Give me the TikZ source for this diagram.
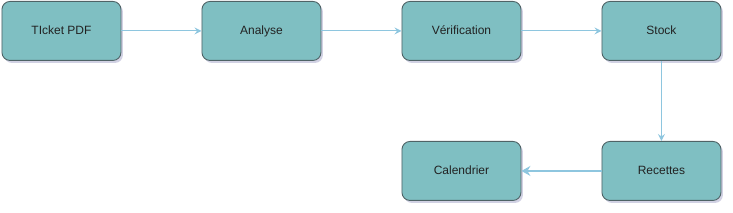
\documentclass[tikz,border=0pt]{standalone}
\usepackage{fontspec}
\setmainfont{Liberation Sans}
\usetikzlibrary{shadows,arrows.meta}
\definecolor{boxfill}{HTML}{7FBFC2}
\definecolor{boxline}{HTML}{4F6366}
\definecolor{arrowc}{HTML}{8EC6DF}
\definecolor{txt}{HTML}{222222}
\tikzset{
  stepbox/.style={draw=boxline, line width=0.9pt, fill=boxfill, rounded corners=8pt,
    minimum width=119pt, minimum height=59pt, inner sep=0pt, anchor=north west,
    font=\fontsize{12pt}{14pt}\selectfont, text=txt, text height=8.6pt, text depth=2.4pt,
    drop shadow={opacity=0.18, shadow xshift=2pt, shadow yshift=-2.5pt, fill=blue!40!black}},
  conn/.style={draw=arrowc, line width=1.1pt, -{Stealth[length=7pt,width=7pt,inset=2.5pt]}},
  connb/.style={draw=arrowc, line width=1.8pt, -{Stealth[length=9pt,width=10pt,inset=3pt]}}
}
\begin{document}
\begin{tikzpicture}[x=1pt,y=-1pt]
\useasboundingbox (0,0) rectangle (733,213);
\node[stepbox] (t) at (1.5,1) {TIcket PDF};
\node[stepbox] (a) at (201.5,1) {Analyse};
\node[stepbox] (v) at (401.5,1) {Vérification};
\node[stepbox] (s) at (601.5,1) {Stock};
\node[stepbox] (r) at (601.5,141) {Recettes};
\node[stepbox] (c) at (401.5,141) {Calendrier};
\draw[conn] (t) -- (a);
\draw[conn] (a) -- (v);
\draw[conn] (v) -- (s);
\draw[conn] (s) -- (r);
\draw[connb] (r) -- (c);
\end{tikzpicture}
\end{document}
